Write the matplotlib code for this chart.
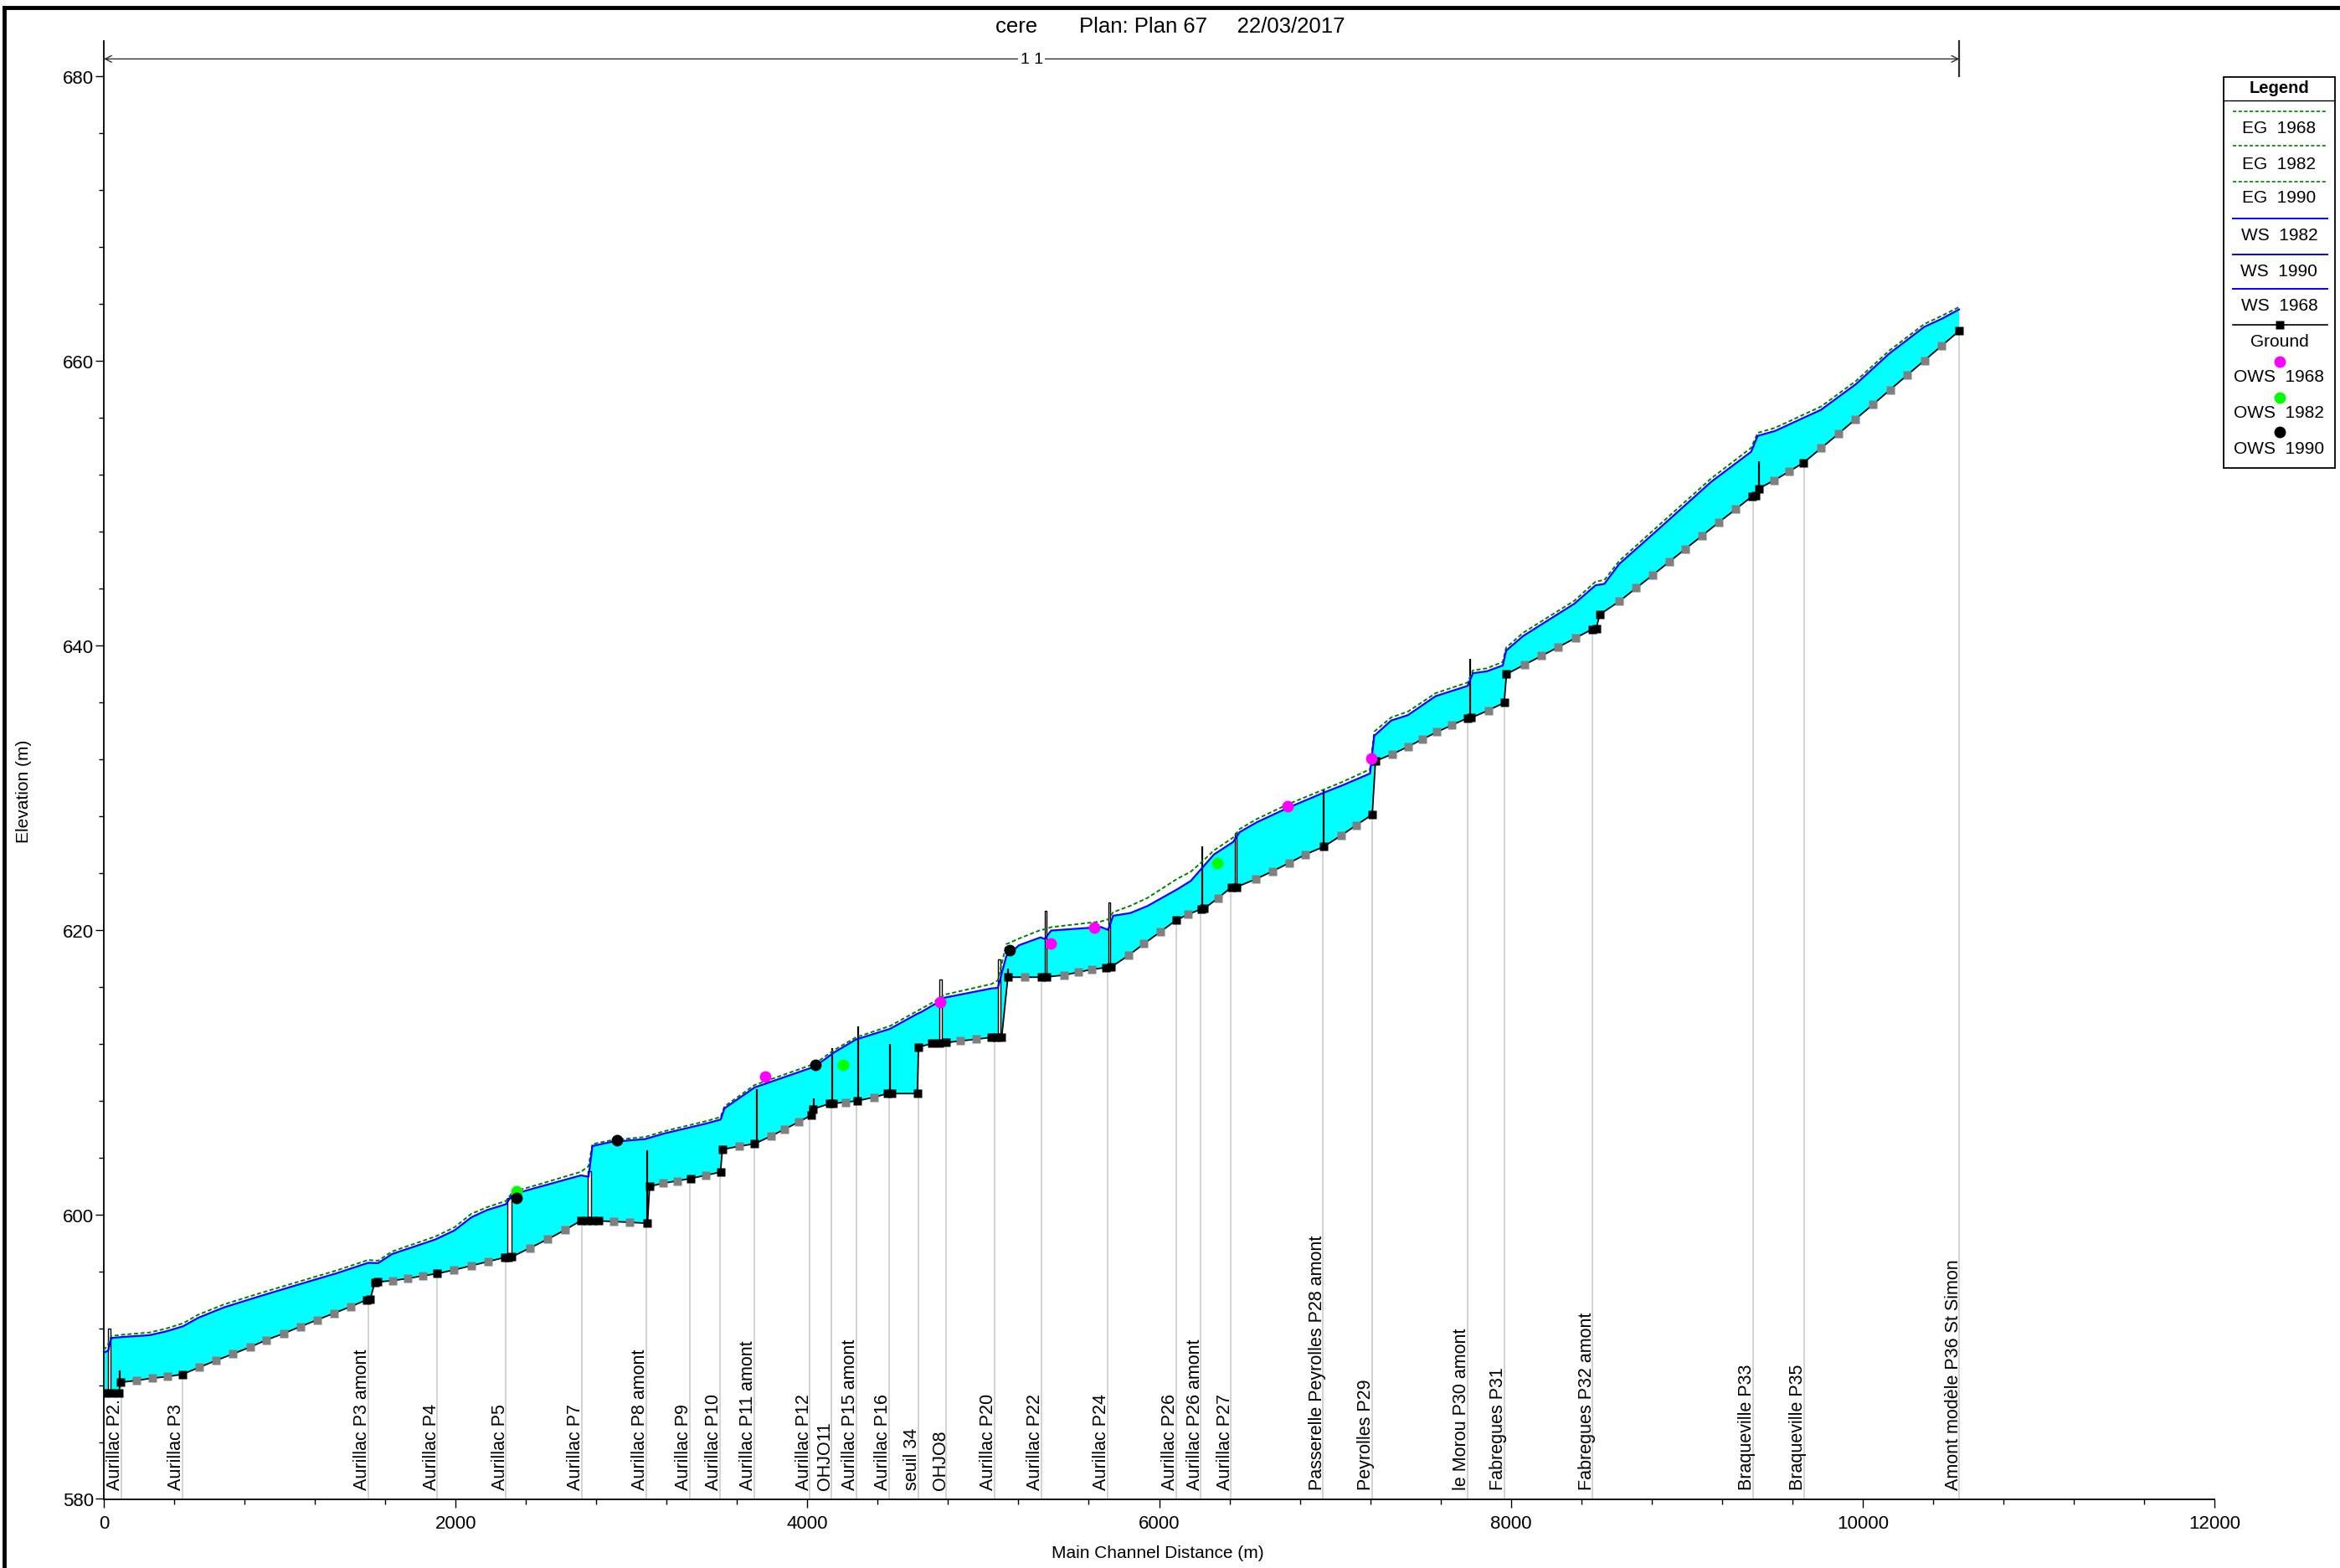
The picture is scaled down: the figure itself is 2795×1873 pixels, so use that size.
import matplotlib
matplotlib.use("Agg")
import matplotlib.pyplot as plt
from matplotlib.lines import Line2D
from matplotlib.patches import Rectangle
import numpy as np

plt.rcParams["font.family"] = ["Liberation Sans", "DejaVu Sans"]

W, H = 2795, 1874

# named river stations (main channel distance, m)
station_names = [
    "Aurillac P2.", "Aurillac P3", "Aurillac P3 amont", "Aurillac P4", "Aurillac P5",
    "Aurillac P7", "Aurillac P8 amont", "Aurillac P9", "Aurillac P10", "Aurillac P11 amont",
    "Aurillac P12", "OHJO11", "Aurillac P15 amont", "Aurillac P16", "seuil 34", "OHJO8",
    "Aurillac P20", "Aurillac P22", "Aurillac P24", "Aurillac P26", "Aurillac P26 amont",
    "Aurillac P27", "Passerelle Peyrolles P28 amont", "Peyrolles P29", "le Morou P30 amont",
    "Fabregues P31", "Fabregues P32 amont", "Braqueville P33", "Braqueville P35",
    "Amont modèle P36 St Simon",
]
station_x = [
    100, 446, 1505, 1896, 2286, 2716, 3085, 3332, 3503, 3698,
    4015, 4135, 4280, 4465, 4630, 4790, 5065, 5330, 5705, 6098,
    6238, 6408, 6932, 7210, 7752, 7962, 8465, 9376, 9668, 10550,
]

# ground at surveyed cross sections
section_x = [
    0, 45, 85, 95, 446, 1495, 1515, 1540, 1555, 1896, 2280, 2300, 2320,
    2712, 2745, 2780, 2815, 3091, 3103, 3336, 3506, 3517, 3700, 4020, 4030,
    4125, 4145, 4283, 4455, 4480, 4625, 4632, 4710, 4750, 4790, 5045, 5075,
    5105, 5140, 5330, 5360, 5700, 5725, 6098, 6240, 6255, 6410, 6440, 6936,
    7212, 7230, 7752, 7775, 7962, 7975, 8463, 8485, 8505, 9372, 9392, 9410,
    9665, 10548,
]
section_z = [
    587.45, 587.45, 587.45, 588.2, 588.76, 594.0, 594.05, 595.2, 595.25, 595.84,
    596.98, 597.0, 597.02, 599.57, 599.57, 599.56, 599.55, 599.38, 601.97, 602.53,
    602.98, 604.57, 604.97, 606.97, 607.4, 607.79, 607.8, 607.99, 608.5, 608.5,
    608.5, 611.77, 612.02, 612.07, 612.08, 612.45, 612.46, 612.47, 616.68, 616.68,
    616.7, 617.36, 617.38, 620.7, 621.48, 621.5, 623.0, 623.02, 625.86, 628.12,
    631.88, 634.89, 634.92, 635.98, 637.99, 641.15, 641.19, 642.18, 650.5, 650.52,
    651.04, 652.86, 662.11,
]

# ground at interpolated cross sections
interp_x = [
    188, 274, 361, 542, 637, 735, 831, 925, 1022, 1118, 1214, 1309, 1405, 1641,
    1730, 1813, 1991, 2089, 2185, 2424, 2525, 2624, 2900, 2989, 3181, 3260, 3421,
    3614, 3792, 3872, 3951, 4215, 4380, 4869, 4961, 5236, 5460, 5540, 5617, 5826,
    5913, 6006, 6166, 6334, 6550, 6645, 6740, 6832, 7033, 7121, 7327, 7414, 7495,
    7580, 7665, 7871, 8077, 8174, 8269, 8366, 8617, 8712, 8806, 8899, 8993, 9088,
    9182, 9277, 9498, 9583, 9765, 9862, 9959, 10059, 10156, 10253, 10351, 10450,
]
interp_z = [
    588.33, 588.49, 588.6, 589.25, 589.73, 590.2, 590.67, 591.18, 591.63, 592.12,
    592.59, 593.06, 593.53, 595.35, 595.5, 595.69, 596.1, 596.4, 596.7, 597.65,
    598.27, 598.92, 599.5, 599.45, 602.2, 602.36, 602.75, 604.8, 605.5, 606.0,
    606.5, 607.89, 608.24, 612.2, 612.32, 616.68, 616.83, 617.03, 617.23, 618.21,
    619.03, 619.86, 621.1, 622.23, 623.58, 624.13, 624.72, 625.31, 626.63, 627.37,
    632.37, 632.88, 633.4, 633.92, 634.41, 635.44, 638.65, 639.27, 639.89, 640.52,
    643.11, 644.04, 644.95, 645.87, 646.8, 647.73, 648.66, 649.57, 651.62, 652.24,
    653.89, 654.88, 655.91, 656.95, 657.98, 659.01, 660.04, 661.08,
]

# water surface and energy grade (the three plans overlap)
ws_x = [
    0, 25, 42, 110, 259, 355, 451, 536, 684, 897, 1109, 1322, 1503, 1560, 1639,
    1885, 1994, 2090, 2177, 2286, 2317, 2370, 2456, 2713, 2756, 2778, 2885, 3078,
    3185, 3421, 3507, 3529, 3700, 4043, 4151, 4276, 4470, 4624, 4646, 4743, 4779,
    5047, 5083, 5131, 5204, 5326, 5350, 5386, 5669, 5710, 5739, 5836, 5933, 6103,
    6180, 6240, 6312, 6421, 6458, 6555, 6725, 6931, 7040, 7199, 7223, 7320, 7414,
    7572, 7754, 7784, 7864, 7954, 7973, 8070, 8361, 8482, 8531, 8616, 8823, 9139,
    9366, 9403, 9501, 9763, 9962, 10153, 10350, 10453, 10548,
]
ws_z = [
    590.29, 590.43, 591.31, 591.39, 591.51, 591.78, 592.14, 592.73, 593.47, 594.29,
    595.08, 595.86, 596.6, 596.58, 597.22, 598.24, 598.88, 599.8, 600.3, 600.72,
    601.28, 601.57, 601.87, 602.75, 602.65, 604.81, 605.1, 605.3, 605.69, 606.38,
    606.67, 607.46, 608.93, 610.4, 611.38, 612.3, 613.05, 614.1, 614.22, 614.92,
    615.24, 615.89, 615.93, 618.15, 618.93, 619.48, 619.37, 619.96, 620.21, 620.01,
    621.0, 621.19, 621.68, 622.86, 623.45, 624.3, 625.31, 626.19, 626.88, 627.57,
    628.55, 629.63, 630.16, 631.0, 633.65, 634.73, 635.1, 636.44, 637.16, 638.05,
    638.19, 638.6, 639.64, 640.67, 642.94, 644.24, 644.33, 645.73, 648.0, 651.51,
    653.62, 654.74, 655.08, 656.57, 658.38, 660.54, 662.4, 662.99, 663.63,
]
eg_z = [
    590.45, 590.9, 591.45, 591.55, 591.7, 591.98, 592.35, 592.95, 593.68, 594.5,
    595.28, 596.06, 596.8, 596.75, 597.4, 598.45, 599.1, 600.05, 600.5, 600.95,
    601.45, 601.75, 602.05, 603.0, 603.4, 604.95, 605.22, 605.45, 605.85, 606.55,
    606.85, 607.6, 609.1, 610.6, 611.55, 612.45, 613.25, 614.3, 614.45, 615.12,
    615.45, 616.2, 616.45, 619.0, 619.4, 620.0, 620.05, 620.2, 620.6, 620.75,
    621.25, 621.7, 622.25, 623.6, 624.1, 624.75, 625.6, 626.5, 627.1, 627.8,
    628.8, 629.85, 630.4, 631.3, 633.95, 634.95, 635.35, 636.65, 637.4, 638.25,
    638.4, 638.85, 639.85, 640.9, 643.15, 644.5, 644.6, 645.95, 648.25, 651.75,
    653.9, 654.95, 655.3, 656.8, 658.6, 660.75, 662.6, 663.2, 663.8,
]

# observed water surface
ows_1968_x = [3761, 4756, 5382, 5629, 6732, 7206]
ows_1968_z = [609.71, 614.92, 619.07, 620.15, 628.71, 632.08]
ows_1982_x = [2347, 4204, 6331]
ows_1982_z = [601.63, 610.5, 624.72]
ows_1990_x = [2347, 2918, 4048, 5148]
ows_1990_z = [601.14, 605.2, 610.54, 618.57]

# weirs / structure lines (x, bottom, top)
weir_x = [89, 3091, 3711, 4038, 4140, 4288, 4470, 5140, 6244, 6936, 7767, 9410]
weir_bot = [588.2, 599.38, 604.97, 607.0, 607.8, 608.0, 608.5, 616.68, 621.48, 625.86, 634.89, 651.04]
weir_top = [589.06, 604.52, 608.83, 608.15, 611.7, 613.2, 612.0, 617.27, 625.85, 629.9, 639.08, 652.96]

# bridge decks (x start, x end, bottom, top)
deck_x0 = [25, 2295, 2750, 4750, 5085, 5350, 5710, 6430]
deck_x1 = [40, 2319, 2772, 4765, 5100, 5360, 5720, 6440]
deck_bot = [587.45, 596.98, 599.57, 612.07, 612.46, 616.68, 617.36, 623.0]
deck_top = [592.0, 601.18, 603.04, 616.55, 617.95, 621.33, 621.92, 626.85]

fig = plt.figure(figsize=(W / 100, H / 100), dpi=100)
ax = fig.add_axes([124 / W, 1 - 1791.5 / H, (2645 - 124) / W, (1791.5 - 50) / H])

# full bed line through every section, in downstream-to-upstream order
gx = np.r_[section_x, interp_x].astype(float)
gz = np.r_[section_z, interp_z]
order = np.argsort(gx)
gx, gz = gx[order], gz[order]

# station guide lines from the axis up to the bed
st_ground = np.interp(station_x, gx, gz)
ax.vlines(station_x, 580, st_ground, colors="#c8c8c8", lw=1.1, zorder=0.8)

# wetted area
ax.fill(np.r_[ws_x, gx[::-1]], np.r_[ws_z, gz[::-1]], color="#00ffff", lw=0, zorder=1)

for x0, x1, zb, zt in zip(deck_x0, deck_x1, deck_bot, deck_top):
    ax.add_patch(Rectangle((x0, zb), x1 - x0, zt - zb, fc="white", ec="black", lw=1.0, zorder=3))
ax.vlines(weir_x, weir_bot, weir_top, colors="black", lw=1.6, zorder=3)

ax.plot(ws_x, eg_z, color="#008000", lw=1.4, ls=(0, (2.5, 1.5)), zorder=3.4)
ax.plot(ws_x, ws_z, color="#0000ff", lw=1.6, zorder=3.5)

ax.plot(gx, gz, color="black", lw=1.3, zorder=4)
ax.plot(interp_x, interp_z, "s", color="#808080", ms=6.5, mec="none", zorder=5)
ax.plot(section_x, section_z, "s", color="black", ms=7, mec="none", zorder=5)

ax.plot(ows_1968_x, ows_1968_z, "o", color="#ff00ff", ms=10, mec="none", zorder=6)
ax.plot(ows_1982_x, ows_1982_z, "o", color="#00ff00", ms=10, mec="none", zorder=6)
ax.plot(ows_1990_x, ows_1990_z, "o", color="black", ms=10, mec="none", zorder=6)

for name, sx in zip(station_names, station_x):
    ax.text(sx - 8, 580.7, name, rotation=90, rotation_mode="anchor",
            ha="left", va="baseline", fontsize=15.5, zorder=2)

# reach extent arrow
reach_end = station_x[-1]
y_reach = 681.24
ax.annotate("", xy=(0, y_reach), xytext=(reach_end, y_reach),
            arrowprops=dict(arrowstyle="<->", lw=1.0, color="#303030",
                            shrinkA=0, shrinkB=0, mutation_scale=14),
            annotation_clip=False)
ax.plot([reach_end, reach_end], [680.0, 682.5], color="#303030", lw=1.6, clip_on=False)
ax.text(reach_end / 2, y_reach, "1 1", ha="center", va="center", fontsize=14,
        bbox=dict(fc="white", ec="none", pad=1.5), zorder=7)

ax.set_xlim(0, 12000)
ax.set_ylim(580, 682.5)
ax.set_xticks(np.arange(0, 12001, 2000))
ax.set_xticks(np.arange(0, 12001, 400), minor=True)
ax.set_yticks(np.arange(580, 681, 20))
ax.set_yticks(np.arange(580, 681, 4), minor=True)
for side in ["top", "right"]:
    ax.spines[side].set_visible(False)
for side in ["left", "bottom"]:
    ax.spines[side].set_linewidth(1.3)
ax.tick_params(axis="both", which="major", length=7.5, width=1.0, labelsize=16)
ax.tick_params(axis="both", which="minor", length=4, width=1.0)
ax.tick_params(axis="x", pad=6)
ax.tick_params(axis="y", pad=1)
ax.patch.set_alpha(0)

fig.text(28 / W, 1 - 945 / H, "Elevation (m)", rotation=90, ha="center", va="center", fontsize=15)
fig.text(1383 / W, 1 - 1856 / H, "Main Channel Distance (m)", ha="center", va="center", fontsize=15)
fig.text(1398 / W, 1 - 32 / H, "cere       Plan: Plan 67     22/03/2017",
         ha="center", va="center", fontsize=18.5)

# outer frame
fig.add_artist(Line2D([5 / W, 5 / W], [0, 1 - 10 / H], transform=fig.transFigure, color="black", lw=3.5))
fig.add_artist(Line2D([5 / W, 1], [1 - 10 / H, 1 - 10 / H], transform=fig.transFigure, color="black", lw=3.5))

# legend table
lw_px, lh_px = 133.3, 467.0
leg = fig.add_axes([2655.7 / W, 1 - (92.7 + lh_px) / H, lw_px / W, lh_px / H])
leg.set_xlim(0, lw_px)
leg.set_ylim(lh_px, 0)
leg.axis("off")
leg.add_patch(Rectangle((0, 0), lw_px, lh_px, fill=False, ec="black", lw=1.3, clip_on=False))
leg.plot([0, lw_px], [28.3, 28.3], color="black", lw=1.0)
leg.text(lw_px / 2, 12.5, "Legend", ha="center", va="center", fontsize=14.5, fontweight="bold")
cx = 66.7
line_x = [11, 124.3]
for y_line, y_txt, label in [(41, 60.6, "EG  1968"), (82, 103.3, "EG  1982"), (124.8, 144.3, "EG  1990")]:
    leg.plot(line_x, [y_line, y_line], color="#008000", lw=1.2, ls=(0, (2.5, 1.5)))
    leg.text(cx, y_txt, label, ha="center", va="center", fontsize=15)
for y_line, y_txt, label in [(169.3, 188.9, "WS  1982"), (212.1, 231.7, "WS  1990"), (253.1, 272.7, "WS  1968")]:
    leg.plot(line_x, [y_line, y_line], color="#0000ff", lw=1.4)
    leg.text(cx, y_txt, label, ha="center", va="center", fontsize=15)
leg.plot(line_x, [295.9, 295.9], color="black", lw=1.2)
leg.plot([cx + 0.6], [295.9], "s", color="black", ms=7, mec="none")
leg.text(cx, 315.5, "Ground", ha="center", va="center", fontsize=15)
for y_dot, y_txt, colour, label in [(340.4, 358.3, "#ff00ff", "OWS  1968"),
                                    (383.3, 401.1, "#00ff00", "OWS  1982"),
                                    (424.3, 443.8, "black", "OWS  1990")]:
    leg.plot([cx + 0.6], [y_dot], "o", color=colour, ms=10, mec="none")
    leg.text(cx, y_txt, label, ha="center", va="center", fontsize=15)

fig.savefig("out.png", dpi=100)
